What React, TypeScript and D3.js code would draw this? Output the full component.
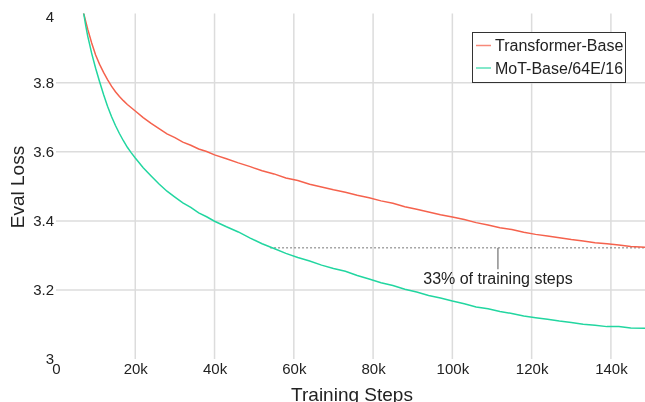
import React, { useRef, useEffect } from "react";
import * as d3 from "d3";

// training steps (k) and eval loss
const baseSteps = [6, 7, 8, 9, 10, 11, 12, 13, 14, 15, 16, 17, 18, 20, 22, 24, 26, 28, 30, 32, 34, 36, 38, 40, 43, 46, 49, 52, 55, 58, 61, 64, 67, 70, 73, 76, 79, 82, 85, 88, 91, 94, 97, 100, 103, 106, 109, 112, 115, 118, 121, 124, 127, 130, 133, 136, 139, 142, 145, 148.6];
const baseLoss = [4.06, 4.0, 3.955, 3.915, 3.88, 3.853, 3.83, 3.809, 3.79, 3.774, 3.76, 3.748, 3.737, 3.718, 3.699, 3.682, 3.667, 3.652, 3.641, 3.628, 3.619, 3.608, 3.601, 3.591, 3.58, 3.568, 3.557, 3.545, 3.536, 3.524, 3.517, 3.506, 3.498, 3.49, 3.483, 3.474, 3.467, 3.458, 3.451, 3.441, 3.434, 3.426, 3.418, 3.411, 3.404, 3.395, 3.388, 3.38, 3.375, 3.367, 3.361, 3.356, 3.351, 3.346, 3.342, 3.337, 3.334, 3.33, 3.326, 3.324];

const motSteps = [6, 7, 7.5, 8, 8.5, 9, 10, 11, 12, 13, 14, 15, 16, 17, 18, 19, 20, 22, 24, 26, 28, 30, 32, 34, 36, 38, 40, 43, 46, 49, 52, 55, 58, 61, 64, 67, 70, 73, 76, 79, 82, 85, 88, 91, 94, 97, 100, 103, 106, 109, 112, 115, 118, 121, 124, 127, 130, 133, 136, 139, 142, 145, 148.6];
const motLoss = [4.08, 4.0, 3.965, 3.935, 3.91, 3.885, 3.842, 3.803, 3.766, 3.732, 3.702, 3.676, 3.653, 3.632, 3.613, 3.597, 3.582, 3.554, 3.53, 3.507, 3.486, 3.469, 3.452, 3.439, 3.423, 3.412, 3.399, 3.383, 3.368, 3.35, 3.334, 3.32, 3.306, 3.294, 3.284, 3.272, 3.262, 3.254, 3.242, 3.232, 3.221, 3.213, 3.202, 3.194, 3.184, 3.177, 3.168, 3.16, 3.151, 3.146, 3.138, 3.132, 3.125, 3.12, 3.115, 3.11, 3.106, 3.101, 3.098, 3.094, 3.094, 3.09, 3.089];

const seriesNames = ["Transformer-Base", "MoT-Base/64E/16"];
const seriesColors = ["#f5624d", "#22d6a0"];

const yTicks = [3, 3.2, 3.4, 3.6, 3.8, 4];
const xTicks = [0, 20, 40, 60, 80, 100, 120, 140];

// annotation: loss reached by baseline at the end, matched by MoT earlier
const matchLoss = 3.322;
const matchStart = 54;
const matchEnd = 148.6;
const noteStep = 111.5;
const noteText = "33% of training steps";

const App = () => {
  const svgRef = useRef(null);

  useEffect(() => {
    const width = 645;
    const height = 402;
    const svg = d3.select(svgRef.current);
    svg.selectAll("*").remove();
    svg.attr("width", width).attr("height", height);

    const x = d3.scaleLinear().domain([0, 148.6]).range([56, 645]);
    const y = d3.scaleLinear().domain([3, 4]).range([359.1, 13.6]);

    const font = "'Liberation Sans', Arial, sans-serif";

    svg
      .append("defs")
      .append("clipPath")
      .attr("id", "plot-clip")
      .append("rect")
      .attr("x", 56)
      .attr("y", 13.6)
      .attr("width", 589)
      .attr("height", 359.1 - 13.6);

    // grid
    const grid = svg.append("g");
    grid
      .selectAll("line.h")
      .data(yTicks.filter((t) => t > 3 && t < 4))
      .join("line")
      .attr("x1", 56)
      .attr("x2", 645)
      .attr("y1", (d) => y(d))
      .attr("y2", (d) => y(d))
      .attr("stroke", "#dcdcdc")
      .attr("stroke-width", 1.5);
    grid
      .selectAll("line.v")
      .data(xTicks.filter((t) => t > 0))
      .join("line")
      .attr("x1", (d) => x(d))
      .attr("x2", (d) => x(d))
      .attr("y1", 13.6)
      .attr("y2", 359.1)
      .attr("stroke", "#dcdcdc")
      .attr("stroke-width", 1.5);

    // y axis labels
    const yAxis = svg
      .append("g")
      .attr("transform", "translate(56,0)")
      .call(
        d3
          .axisLeft(y)
          .tickValues(yTicks)
          .tickSize(0)
          .tickPadding(2)
          .tickFormat((d) => d3.format("")(+d.toFixed(1)))
      );
    yAxis.select(".domain").remove();
    yAxis
      .selectAll("text")
      .style("font-family", font)
      .style("font-size", "15px")
      .attr("fill", "#222");
    yAxis
      .selectAll("text")
      .filter((d) => d === 4)
      .attr("dy", "0.5em");

    // x axis labels
    const xAxis = svg
      .append("g")
      .attr("transform", "translate(0,359.1)")
      .call(
        d3
          .axisBottom(x)
          .tickValues(xTicks)
          .tickSize(0)
          .tickPadding(4)
          .tickFormat((d) => (d === 0 ? "0" : d + "k"))
      );
    xAxis.select(".domain").remove();
    xAxis
      .selectAll("text")
      .style("font-family", font)
      .style("font-size", "15px")
      .attr("fill", "#222");

    // axis titles
    svg
      .append("text")
      .attr("x", 352)
      .attr("y", 401)
      .attr("text-anchor", "middle")
      .style("font-family", font)
      .style("font-size", "19px")
      .attr("fill", "#222")
      .text("Training Steps");
    svg
      .append("text")
      .attr("transform", "translate(24,187) rotate(-90)")
      .attr("text-anchor", "middle")
      .style("font-family", font)
      .style("font-size", "19px")
      .attr("fill", "#222")
      .text("Eval Loss");

    // dotted reference line + annotation
    svg
      .append("line")
      .attr("x1", x(matchStart))
      .attr("x2", x(matchEnd))
      .attr("y1", y(matchLoss))
      .attr("y2", y(matchLoss))
      .attr("stroke", "#555")
      .attr("stroke-width", 0.8)
      .attr("stroke-dasharray", "2,2");
    svg
      .append("line")
      .attr("x1", x(noteStep))
      .attr("x2", x(noteStep))
      .attr("y1", y(matchLoss))
      .attr("y2", y(3.26))
      .attr("stroke", "#555")
      .attr("stroke-width", 1);
    svg
      .append("text")
      .attr("x", x(noteStep))
      .attr("y", y(3.217))
      .attr("text-anchor", "middle")
      .style("font-family", font)
      .style("font-size", "16px")
      .attr("fill", "#222")
      .text(noteText);

    // curves
    const line = d3
      .line()
      .x((d) => x(d[0]))
      .y((d) => y(d[1]));
    const series = [
      d3.zip(baseSteps, baseLoss),
      d3.zip(motSteps, motLoss),
    ];
    svg
      .append("g")
      .attr("clip-path", "url(#plot-clip)")
      .selectAll("path")
      .data(series)
      .join("path")
      .attr("d", (d) => line(d))
      .attr("fill", "none")
      .attr("stroke", (d, i) => seriesColors[i])
      .attr("stroke-width", 1.5);

    // legend
    const legend = svg.append("g").attr("transform", "translate(472,32)");
    legend
      .append("rect")
      .attr("x", 0.5)
      .attr("y", 0.5)
      .attr("width", 153)
      .attr("height", 50)
      .attr("fill", "#fff")
      .attr("stroke", "#333")
      .attr("stroke-width", 1);
    seriesNames.forEach((name, i) => {
      const ly = 13.5 + i * 22.5;
      legend
        .append("line")
        .attr("x1", 4)
        .attr("x2", 19)
        .attr("y1", ly)
        .attr("y2", ly)
        .attr("stroke", seriesColors[i])
        .attr("stroke-width", 1.5)
        .attr("opacity", 0.75);
      legend
        .append("text")
        .attr("x", 23)
        .attr("y", ly)
        .attr("dy", "0.35em")
        .style("font-family", font)
        .style("font-size", "16px")
        .attr("fill", "#222")
        .text(name);
    });
  }, []);

  return (
    <div style={{ position: "fixed", left: 0, top: 0 }}>
      <svg ref={svgRef} style={{ display: "block" }} />
    </div>
  );
};

export default App;
